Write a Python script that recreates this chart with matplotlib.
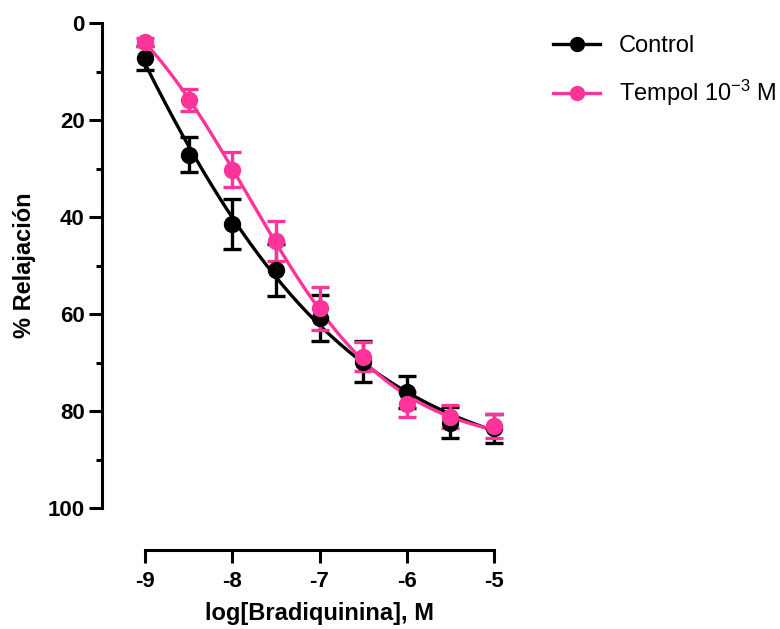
import numpy as np
import matplotlib
matplotlib.use("Agg")
import matplotlib.pyplot as plt
from matplotlib.ticker import MultipleLocator

plt.rcParams['font.family'] = ['Liberation Sans', 'DejaVu Sans']
plt.rcParams['mathtext.fontset'] = 'custom'
plt.rcParams['mathtext.rm'] = 'Liberation Sans'

log_conc = [-9, -8.5, -8, -7.5, -7, -6.5, -6, -5.5, -5]

control_mean = [7.2, 27.2, 41.4, 50.9, 60.8, 69.8, 76.0, 82.4, 83.6]
control_sem = [2.5, 3.6, 5.2, 5.3, 4.8, 4.2, 3.3, 3.2, 3.0]

tempol_mean = [3.9, 15.9, 30.3, 44.9, 58.8, 68.8, 78.6, 81.2, 83.1]
tempol_sem = [0.8, 2.2, 3.6, 4.1, 4.4, 3.0, 2.6, 2.4, 2.4]

labels = ["Control", r"Tempol 10$\mathregular{^{-3}}$ M"]
colors = ["black", "#FF3399"]


def fit_logistic(x, y):
    # 4PL fit: grid over logEC50 / hill, bottom and span solved by least squares
    x = np.asarray(x, float)
    y = np.asarray(y, float)
    best = None
    for ec50 in np.linspace(-10, -5, 251):
        for hill in np.linspace(0.2, 2.5, 116):
            s = 1.0 / (1.0 + 10 ** ((ec50 - x) * hill))
            A = np.column_stack([np.ones_like(s), s])
            coef, res, _, _ = np.linalg.lstsq(A, y, rcond=None)
            err = np.sum((A @ coef - y) ** 2)
            if best is None or err < best[0]:
                best = (err, ec50, hill, coef)
    _, ec50, hill, coef = best
    return lambda xx: coef[0] + coef[1] / (1.0 + 10 ** ((ec50 - xx) * hill))


fig = plt.figure(figsize=(7.8, 6.29), dpi=100)
ax = fig.add_axes([145 / 780, 1 - 508 / 629, 349 / 780, 485 / 629])

xs = np.linspace(-9, -5, 300)
series = [(control_mean, control_sem), (tempol_mean, tempol_sem)]
for (mean, sem), lab, col in zip(series, labels, colors):
    f = fit_logistic(log_conc, mean)
    ax.plot(xs, f(xs), color=col, lw=2.4, clip_on=False, zorder=3)
    ax.errorbar(log_conc, mean, yerr=sem, fmt='none', ecolor=col,
                elinewidth=2.4, capsize=6.5, capthick=2.4, clip_on=False, zorder=3)
    ax.plot(log_conc, mean, 'o', color=col, ms=11.5, clip_on=False, zorder=4)
    # legend handle
    ax.plot([], [], '-o', color=col, lw=2.4, ms=10, label=lab)

ax.set_xlim(-9, -5)
ax.set_ylim(100, 0)

for side in ['top', 'right']:
    ax.spines[side].set_visible(False)
ax.spines['left'].set_position(('outward', 31))
ax.spines['bottom'].set_position(('outward', 30))
ax.spines['left'].set_linewidth(2.2)
ax.spines['bottom'].set_linewidth(2.2)

ax.set_xticks([-9, -8, -7, -6, -5])
ax.set_xticklabels(['-9', '-8', '-7', '-6', '-5'])
ax.set_yticks([0, 20, 40, 60, 80, 100])
ax.yaxis.set_minor_locator(MultipleLocator(10))
ax.tick_params(axis='both', which='major', width=2.2, length=9.5,
               labelsize=16, pad=3)
ax.tick_params(axis='x', which='major', pad=6)
ax.tick_params(axis='y', which='minor', width=2.2, length=4.5)
for t in ax.get_xticklabels() + ax.get_yticklabels():
    t.set_fontweight('bold')

ax.set_xlabel('log[Bradiquinina], M', fontsize=17, fontweight='bold', labelpad=7)
ax.set_ylabel('% Relajación', fontsize=17, fontweight='bold', labelpad=8)

ax.legend(loc='upper left', bbox_to_anchor=(553 / 780, 1 - 35 / 629),
          bbox_transform=fig.transFigure, frameon=False, fontsize=17,
          handlelength=2.0, handletextpad=0.8, labelspacing=0.9,
          borderaxespad=0, borderpad=0)

fig.savefig('out.png', dpi=100)
